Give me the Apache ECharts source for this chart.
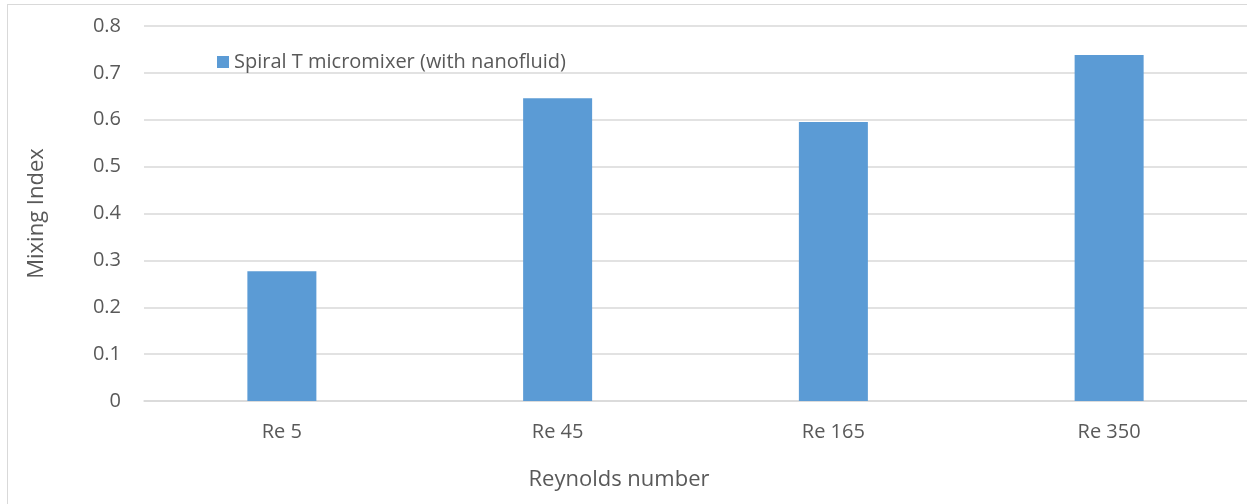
<!DOCTYPE html>
<html>
<head>
<meta charset="utf-8">
<script src="https://cdn.jsdelivr.net/npm/echarts@6/dist/echarts.min.js"></script>
<style>
  body { margin: 0; background: #fff; }
  #frame {
    position: absolute; left: 7px; top: 4px; width: 1250px; height: 510px;
    border: 1px solid #d9d9d9; box-sizing: border-box;
  }
  #chart { position: absolute; left: 0; top: 0; width: 1247px; height: 504px; }
</style>
</head>
<body>
<div id="frame"></div>
<div id="chart"></div>
<script>
  // 数据
  var categories = ['Re 5', 'Re 45', 'Re 165', 'Re 350'];
  var mixingIndex = [0.277, 0.646, 0.595, 0.738];
  var seriesName = 'Spiral T micromixer (with nanofluid)';

  var font = '"Open Sans", "Liberation Sans", sans-serif';
  var myChart = echarts.init(document.getElementById('chart'));
  var option = {
    animation: false,
    textStyle: { fontFamily: font },
    grid: { left: 144, right: -2, top: 26, bottom: 103 },
    legend: {
      left: 212, top: 47,
      itemWidth: 12, itemHeight: 12, itemGap: 4,
      icon: 'rect',
      textStyle: { color: '#595959', fontSize: 20, fontFamily: font },
      data: [seriesName]
    },
    title: [
      {
        text: 'Reynolds number',
        left: 614, top: 464, textAlign: 'center',
        textStyle: { color: '#595959', fontSize: 22, fontWeight: 'normal', fontFamily: font }
      }
    ],
    xAxis: {
      type: 'category',
      data: categories,
      axisLine: { lineStyle: { color: '#d9d9d9', width: 1.5 } },
      axisTick: { show: false },
      axisLabel: { color: '#595959', fontSize: 20, margin: 21 }
    },
    yAxis: {
      type: 'value',
      min: 0, max: 0.8, interval: 0.1,
      name: 'Mixing Index',
      nameLocation: 'middle',
      nameGap: 96,
      nameTextStyle: { color: '#595959', fontSize: 22 },
      axisLine: { show: false },
      axisTick: { show: false },
      axisLabel: { color: '#595959', fontSize: 20, margin: 23 },
      splitLine: { lineStyle: { color: '#d9d9d9', width: 1.5 } }
    },
    series: [
      {
        name: seriesName,
        type: 'bar',
        data: mixingIndex,
        barWidth: 69,
        itemStyle: { color: '#5b9bd5' }
      }
    ]
  };
  myChart.setOption(option);
</script>
</body>
</html>
